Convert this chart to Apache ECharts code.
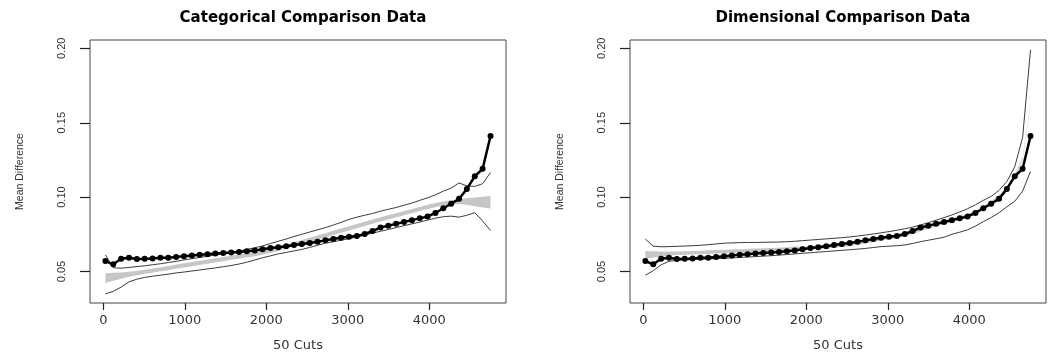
<!DOCTYPE html>
<html>
<head>
<meta charset="utf-8">
<script src="https://cdn.jsdelivr.net/npm/echarts@6/dist/echarts.min.js"></script>
<style>
html,body{margin:0;padding:0;background:#fff;}
#chart{width:1051px;height:357px;}
</style>
</head>
<body>
<div id="chart"></div>
<script>
// ---- data ----
const titles = ['Categorical Comparison Data', 'Dimensional Comparison Data'];
const xTicks = [0, 1000, 2000, 3000, 4000];
const yTicks = [0.05, 0.10, 0.15, 0.20];
const xRange = [-163, 4941];
const yRange = [0.0288, 0.2056];

const cuts = [26,122,219,315,412,508,604,701,797,894,990,1087,1183,1279,1376,1472,1569,1665,1761,1858,
  1954,2051,2147,2244,2340,2436,2533,2629,2726,2822,2918,3015,3111,3208,3304,3401,3497,3593,3690,3786,
  3883,3979,4075,4172,4268,4365,4461,4558,4654,4751];

// observed mean difference (same in both panels)
const observed = [0.0570,0.0548,0.0585,0.0592,0.0584,0.0585,0.0587,0.0592,0.0592,0.0597,
  0.0602,0.0607,0.0612,0.0616,0.0620,0.0624,0.0627,0.0631,0.0636,0.0641,
  0.0650,0.0657,0.0663,0.0670,0.0678,0.0685,0.0692,0.0700,0.0709,0.0718,
  0.0727,0.0733,0.0738,0.0752,0.0772,0.0795,0.0808,0.0820,0.0832,0.0845,
  0.0857,0.0870,0.0893,0.0925,0.0955,0.0988,0.1055,0.1140,0.1190,0.1410];

// Categorical panel
const catUpper = [0.0612,0.0525,0.0522,0.0527,0.0533,0.0538,0.0545,0.0552,0.0560,0.0568,
  0.0578,0.0586,0.0594,0.0602,0.0611,0.0620,0.0629,0.0638,0.0648,0.0659,
  0.0672,0.0688,0.0703,0.0718,0.0735,0.0750,0.0765,0.0780,0.0795,0.0812,
  0.0830,0.0850,0.0865,0.0878,0.0890,0.0905,0.0918,0.0930,0.0945,0.0960,
  0.0978,0.0995,0.1015,0.1040,0.1060,0.1095,0.1075,0.1072,0.1090,0.1165];
const catLower = [0.0350,0.0366,0.0395,0.0430,0.0448,0.0460,0.0468,0.0475,0.0482,0.0490,
  0.0496,0.0503,0.0510,0.0517,0.0524,0.0532,0.0540,0.0550,0.0562,0.0577,
  0.0592,0.0605,0.0618,0.0628,0.0638,0.0648,0.0662,0.0676,0.0690,0.0700,
  0.0710,0.0720,0.0732,0.0745,0.0758,0.0770,0.0782,0.0795,0.0808,0.0820,
  0.0832,0.0845,0.0858,0.0868,0.0872,0.0865,0.0878,0.0895,0.0840,0.0775];
const catBandLo = [0.0422,0.0437,0.0451,0.0464,0.0475,0.0484,0.0492,0.0501,0.0509,0.0518,
  0.0527,0.0535,0.0544,0.0552,0.0561,0.0569,0.0578,0.0586,0.0595,0.0603,
  0.0612,0.0624,0.0638,0.0653,0.0668,0.0683,0.0698,0.0713,0.0729,0.0745,
  0.0761,0.0776,0.0791,0.0806,0.0821,0.0836,0.0850,0.0864,0.0878,0.0892,
  0.0906,0.0920,0.0932,0.0943,0.0951,0.0954,0.0948,0.0939,0.0930,0.0923];
const catBandHi = [0.0488,0.0491,0.0493,0.0498,0.0503,0.0512,0.0520,0.0529,0.0537,0.0546,
  0.0555,0.0563,0.0572,0.0580,0.0589,0.0597,0.0606,0.0614,0.0623,0.0631,
  0.0640,0.0652,0.0666,0.0681,0.0696,0.0711,0.0726,0.0741,0.0757,0.0773,
  0.0789,0.0804,0.0819,0.0834,0.0849,0.0864,0.0878,0.0892,0.0906,0.0920,
  0.0934,0.0948,0.0960,0.0971,0.0979,0.0986,0.0992,0.0997,0.1002,0.1007];

// Dimensional panel
const dimUpper = [0.0718,0.0670,0.0666,0.0667,0.0669,0.0671,0.0673,0.0676,0.0680,0.0685,
  0.0690,0.0692,0.0694,0.0695,0.0695,0.0696,0.0697,0.0698,0.0700,0.0703,
  0.0707,0.0711,0.0715,0.0719,0.0723,0.0727,0.0732,0.0738,0.0745,0.0752,
  0.0760,0.0768,0.0777,0.0787,0.0798,0.0812,0.0828,0.0845,0.0862,0.0880,
  0.0900,0.0922,0.0948,0.0978,0.1005,0.1045,0.1105,0.1205,0.1400,0.1990];
const dimLower = [0.0475,0.0505,0.0545,0.0568,0.0575,0.0578,0.0580,0.0582,0.0584,0.0586,
  0.0588,0.0591,0.0594,0.0597,0.0600,0.0603,0.0606,0.0610,0.0614,0.0618,
  0.0622,0.0626,0.0630,0.0634,0.0638,0.0642,0.0646,0.0650,0.0655,0.0661,
  0.0667,0.0670,0.0673,0.0678,0.0688,0.0700,0.0710,0.0720,0.0730,0.0750,
  0.0764,0.0780,0.0805,0.0835,0.0862,0.0895,0.0935,0.0972,0.1040,0.1172];
const dimBandLo = [0.0587,0.0594,0.0601,0.0606,0.0610,0.0612,0.0614,0.0616,0.0618,0.0620,
  0.0622,0.0624,0.0626,0.0628,0.0630,0.0632,0.0634,0.0636,0.0639,0.0642,
  0.0645,0.0648,0.0651,0.0655,0.0659,0.0664,0.0670,0.0680,0.0688,0.0698,
  0.0708,0.0716,0.0725,0.0736,0.0750,0.0770,0.0788,0.0803,0.0818,0.0833,
  0.0848,0.0867,0.0888,0.0918,0.0952,0.0992,0.1050,0.1130,0.1252,0.1614];
const dimBandHi = [0.0637,0.0636,0.0635,0.0634,0.0634,0.0636,0.0638,0.0640,0.0642,0.0644,
  0.0646,0.0648,0.0650,0.0652,0.0654,0.0656,0.0658,0.0660,0.0663,0.0666,
  0.0669,0.0672,0.0675,0.0679,0.0683,0.0688,0.0694,0.0704,0.0712,0.0722,
  0.0732,0.0740,0.0749,0.0760,0.0774,0.0794,0.0812,0.0827,0.0842,0.0857,
  0.0872,0.0887,0.0908,0.0938,0.0972,0.1012,0.1070,0.1150,0.1268,0.1626];

// ---- chart ----
const pairs = ys => cuts.map((x, i) => [x, ys[i]]);

function xAx(gi) {
  return {
    type: 'value', gridIndex: gi, min: xRange[0], max: xRange[1],
    axisLine: { show: false, onZero: false }, splitLine: { show: false },
    axisTick: { show: false },
    axisLabel: { customValues: xTicks, margin: 11, fontFamily: 'DejaVu Sans', fontSize: 13, color: '#333',
      formatter: v => String(v) },
    name: '50 Cuts', nameLocation: 'middle', nameGap: 36,
    nameTextStyle: { fontFamily: 'DejaVu Sans', fontSize: 13, color: '#333' }
  };
}
function yAx(gi) {
  return {
    type: 'value', gridIndex: gi, min: yRange[0], max: yRange[1],
    axisLine: { show: false, onZero: false }, splitLine: { show: false },
    axisTick: { show: false },
    axisLabel: { customValues: yTicks, rotate: 90, margin: 23, fontFamily: 'Liberation Sans', fontSize: 11, color: '#333',
      formatter: v => v.toFixed(2) },
    name: 'Mean Difference', nameLocation: 'middle', nameRotate: 90, nameGap: 64,
    nameTextStyle: { fontFamily: 'Liberation Sans', fontSize: 10.5, color: '#333' }
  };
}
function bandSeries(gi, lo, hi) {
  return {
    type: 'custom', xAxisIndex: gi, yAxisIndex: gi, silent: true, clip: true,
    data: cuts.map((x, i) => [x, lo[i], hi[i]]),
    encode: { x: 0, y: [1, 2] },
    renderItem: function (params, api) {
      if (params.dataIndex !== 0) return null;
      const top = cuts.map((x, i) => api.coord([x, hi[i]]));
      const bot = cuts.map((x, i) => api.coord([x, lo[i]])).reverse();
      return { type: 'polygon', shape: { points: top.concat(bot) }, style: { fill: '#c6c6c6' } };
    }
  };
}
function panel(gi, lo, hi, up, low) {
  return [
    bandSeries(gi, lo, hi),
    { type: 'line', xAxisIndex: gi, yAxisIndex: gi, data: pairs(up), symbol: 'none',
      lineStyle: { width: 1, color: '#3c3c3c' } },
    { type: 'line', xAxisIndex: gi, yAxisIndex: gi, data: pairs(low), symbol: 'none',
      lineStyle: { width: 1, color: '#3c3c3c' } },
    { type: 'line', xAxisIndex: gi, yAxisIndex: gi, data: pairs(observed), symbol: 'circle', symbolSize: 6,
      itemStyle: { color: '#000' }, lineStyle: { width: 2.5, color: '#000' } }
  ];
}

const chart = echarts.init(document.getElementById('chart'), null, { renderer: 'canvas' });
chart.setOption({
  animation: false,
  backgroundColor: '#fff',
  title: [
    { text: titles[0], left: 298, top: 6, textAlign: 'center',
      textStyle: { fontFamily: 'DejaVu Sans', fontWeight: 'bold', fontSize: 15, color: '#000' } },
    { text: titles[1], left: 838, top: 6, textAlign: 'center',
      textStyle: { fontFamily: 'DejaVu Sans', fontWeight: 'bold', fontSize: 15, color: '#000' } }
  ],
  grid: [
    { left: 90, right: 545, top: 40, bottom: 54, show: true, borderColor: '#444', borderWidth: 1, backgroundColor: 'transparent' },
    { left: 630, right: 5, top: 40, bottom: 54, show: true, borderColor: '#444', borderWidth: 1, backgroundColor: 'transparent' }
  ],
  xAxis: [xAx(0), xAx(1)],
  yAxis: [yAx(0), yAx(1)],
  series: [].concat(
    panel(0, catBandLo, catBandHi, catUpper, catLower),
    panel(1, dimBandLo, dimBandHi, dimUpper, dimLower)
  )
});

// R-style outward tick marks, positioned through the axis scales
const tickMarks = [];
const diag = [];
[0, 1].forEach(gi => {
  const finder = { xAxisIndex: gi, yAxisIndex: gi };
  xTicks.forEach(v => {
    const px = chart.convertToPixel({ xAxisIndex: gi }, v);
    const py = chart.convertToPixel({ yAxisIndex: gi }, yRange[0]);
    diag.push([px, py]);
    const x = Math.round(px) + 0.5;
    tickMarks.push({ type: 'line', silent: true, z: 100, zlevel: 1,
      shape: { x1: x, y1: py, x2: x, y2: py + 7 }, style: { stroke: '#222', lineWidth: 1.2 } });
  });
  yTicks.forEach(v => {
    const px = chart.convertToPixel({ xAxisIndex: gi }, xRange[0]);
    const py = chart.convertToPixel({ yAxisIndex: gi }, v);
    diag.push([px, py]);
    const y = Math.round(py) + 0.5;
    tickMarks.push({ type: 'line', silent: true, z: 100, zlevel: 1,
      shape: { x1: px - 10, y1: y, x2: px, y2: y }, style: { stroke: '#222', lineWidth: 1.2 } });
  });
});
chart.setOption({ graphic: { elements: tickMarks } });
console.log('tick pixels ' + JSON.stringify(diag));
</script>
</body>
</html>
